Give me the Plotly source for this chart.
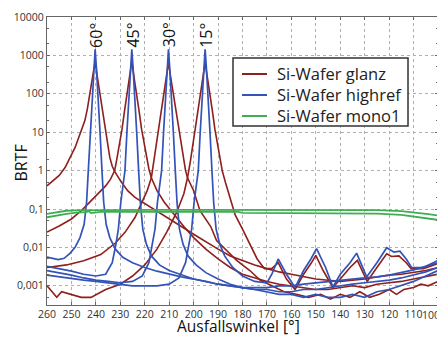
import plotly.graph_objects as go

# ---------------- data ----------------
# Si-Wafer glanz (red), four incidence angles
r60_x = [260, 257.5, 255, 252.6, 250.5, 248.5, 246.5, 244.5, 243.5, 242.4, 241.3, 240.3,
         239.3, 238.3, 237.3, 236.3, 235.3, 234.3, 233.3, 232.3, 230, 227, 224, 220, 215, 210,
         205, 200, 195, 190, 185, 180, 175, 170, 165, 160, 155, 150, 145, 140, 135, 130, 125,
         120, 115, 110, 105, 100]
r60_y = [0.4, 0.55, 0.75, 1.2, 2.2, 4, 9, 20, 40, 100, 300, 700,
         250, 100, 35, 12, 5, 2.2, 1.3, 0.95, 0.55, 0.3, 0.2, 0.14, 0.09, 0.055,
         0.035, 0.022, 0.014, 0.009, 0.006, 0.0045, 0.0035, 0.0028, 0.0023, 0.002, 0.0017, 0.0015,
         0.0014, 0.0013, 0.0014, 0.0015, 0.0017, 0.0019, 0.002, 0.0022, 0.0025, 0.003]

r45_x = [260, 255, 250, 246, 243, 240, 238, 236, 234, 232.3, 231.3, 230.3, 229.3, 228.3, 227.3,
         226.3, 225.3, 224.3, 223.3, 222.3, 221.3, 220.3, 219.3, 218.3, 217.3, 215, 212, 208, 204,
         200, 195, 190, 185, 180, 175, 170, 165, 160, 155, 150, 145, 140, 135, 130, 125, 120, 115,
         110, 105, 100]
r45_y = [0.025, 0.036, 0.055, 0.09, 0.14, 0.22, 0.3, 0.4, 0.6, 1.0, 2.2, 5, 12, 35, 100,
         250, 700, 250, 100, 35, 12, 5, 2.2, 1.1, 0.65, 0.3, 0.15, 0.07, 0.035,
         0.018, 0.009, 0.005, 0.003, 0.002, 0.0016, 0.0013, 0.0011, 0.001, 0.0009, 0.0008, 0.0008,
         0.0009, 0.001, 0.0009, 0.0011, 0.0012, 0.0013, 0.0015, 0.0017, 0.002]

r30_x = [260, 252, 245, 238, 232, 228, 224, 221, 219, 217.3, 216.3, 215.3, 214.3, 213.3, 212.3,
         211.3, 210.3, 209.3, 208.3, 207.3, 206.3, 205.3, 204.3, 203.3, 202.5, 200, 197.4, 193,
         190.6, 186, 182.4, 177, 172.8, 168, 163, 158, 153, 148, 144, 140, 136, 132, 128, 124, 120,
         117, 114, 110, 107, 104, 100]
r30_y = [0.003, 0.0035, 0.0045, 0.0065, 0.013, 0.025, 0.06, 0.15, 0.3, 0.65, 1.8, 5, 12, 35, 100,
         250, 650, 250, 100, 35, 12, 5, 2, 1, 0.65, 0.3, 0.09, 0.035,
         0.015, 0.008, 0.0046, 0.0025, 0.0014, 0.001, 0.0007, 0.0006, 0.0005, 0.0006, 0.00045, 0.0006,
         0.0005, 0.0007, 0.0005, 0.0006, 0.0008, 0.0006, 0.0008, 0.0009, 0.0011, 0.001, 0.0013]

r15_x = [260, 258, 256, 254, 250, 246, 242, 236, 230, 225, 220, 215, 211, 207, 204, 202.5, 201.3,
         200.3, 199.3, 198.3, 197.3, 196.3, 195.3, 194.3, 193.3, 192.3, 191.3, 190.3, 189.3, 188.3,
         187, 185, 183, 180, 177, 174, 171, 168, 165.4, 162, 158.5, 155, 152, 150, 147, 143, 140,
         136, 133, 131, 129, 125, 121, 119, 116, 113, 111, 106, 100]
r15_y = [0.001, 0.0007, 0.0005, 0.0007, 0.0006, 0.0005, 0.0005, 0.0008, 0.0011, 0.0018, 0.0035,
         0.009, 0.025, 0.08, 0.25, 0.65, 1.8,
         5, 12, 35, 100, 250, 650, 250, 100, 35, 12, 5, 2, 1,
         0.5, 0.2, 0.07, 0.03, 0.012, 0.005, 0.0028, 0.0028, 0.004, 0.0015, 0.0008, 0.002, 0.0038,
         0.0062, 0.0025, 0.0009, 0.0015,
         0.003, 0.0046, 0.0025, 0.0013, 0.003, 0.0068, 0.0058, 0.006, 0.004, 0.0028, 0.0028, 0.0038]

# Si-Wafer highref (blue), four incidence angles
b60_x = [260, 258, 255.4, 253, 250.6, 248.5, 246.5, 244.8, 243.8, 243.1, 242.3, 241.5, 240.8,
         240.3, 239.8, 239.1, 238.3, 237.5, 236.8, 235.8, 234.3, 232, 229, 225, 220, 215, 210, 205,
         200, 195, 190, 185, 180, 175, 170, 165, 160, 155, 150, 145, 140, 135, 130, 125, 120, 115,
         110, 105, 100]
b60_y = [0.0056, 0.0052, 0.0048, 0.0052, 0.007, 0.01, 0.018, 0.04, 0.15, 1, 10, 100, 500,
         1450, 500, 100, 10, 1, 0.15, 0.04, 0.018, 0.009, 0.0055, 0.004, 0.003, 0.0024, 0.002,
         0.0017, 0.0015, 0.0013, 0.0011, 0.001, 0.0009, 0.0009, 0.0009, 0.001, 0.001, 0.0011,
         0.0012, 0.0013, 0.0014, 0.0015, 0.0016, 0.0017, 0.0019, 0.0022, 0.0026, 0.0032, 0.004]

b45_x = [260, 255, 250, 245, 240, 236, 233.3, 231.8, 230.8, 229.8, 228.1, 227.3, 226.5, 225.8,
         225.3, 224.8, 224.1, 223.3, 222.5, 221.8, 220.8, 219.3, 217.3, 214, 210, 205, 200, 195,
         190, 185, 180, 175, 170, 165, 160, 155, 150, 145, 140, 135, 130, 125, 120, 115, 110, 105,
         100]
b45_y = [0.0032, 0.0028, 0.0024, 0.002, 0.0018, 0.002, 0.004, 0.012, 0.03, 0.15, 1, 10, 100, 500,
         1450, 500, 100, 10, 1, 0.15, 0.03, 0.012, 0.006, 0.0035, 0.0025, 0.0019, 0.0015, 0.0013,
         0.0011, 0.001, 0.0009, 0.0008, 0.0008, 0.0007, 0.0007, 0.0008, 0.0008, 0.0009, 0.001,
         0.0011, 0.0012, 0.0013, 0.0014, 0.0016, 0.0019, 0.0023, 0.003]

b30_x = [260, 255, 250, 245, 240, 235, 230, 225, 221, 218.3, 216.8, 215.8, 214.8, 213.1, 212.3,
         211.5, 210.8, 210.3, 209.8, 209.1, 208.3, 207.5, 206.8, 205.8, 204.3, 202.3, 199, 195, 190,
         185, 180, 175, 170, 165, 160, 155, 150, 145, 140, 135, 130, 125, 120, 115, 110, 105, 100]
b30_y = [0.0025, 0.0022, 0.0019, 0.0016, 0.0014, 0.0013, 0.0012, 0.0013, 0.0018, 0.004, 0.012,
         0.03, 0.15, 1, 10, 100, 500, 1450, 500, 100, 10, 1, 0.15, 0.03, 0.012, 0.006, 0.0035,
         0.0022, 0.0015, 0.0011, 0.0009, 0.0008, 0.0007, 0.0006, 0.0006, 0.0005, 0.0006, 0.0005,
         0.0005, 0.0006, 0.0005, 0.0007, 0.0008, 0.001, 0.0013, 0.0018, 0.0025]

b15_x = [260, 255, 250, 245, 240, 235, 230, 225, 220, 215, 210, 206, 203.3, 201.8, 200.8, 199.8,
         198.1, 197.3, 196.5, 195.8, 195.3, 194.8, 194.1, 193.3, 192.5, 191.8, 190.8, 189.3, 187.3,
         184, 180, 175, 170, 168, 165.4, 162, 158.5, 155, 152, 149.7, 146, 143, 140, 136, 133.3,
         131, 129.2, 125, 121, 118, 115.6, 113, 110.8, 106, 100]
b15_y = [0.0019, 0.0017, 0.0015, 0.0014, 0.0013, 0.0012, 0.0011, 0.001, 0.001, 0.001, 0.0011,
         0.0016, 0.004, 0.012, 0.03, 0.15, 1, 10, 100, 500, 1450, 500, 100, 10, 1, 0.15, 0.03,
         0.012, 0.006, 0.003, 0.0018, 0.0013, 0.0012, 0.002, 0.005, 0.002, 0.0009, 0.0025, 0.005,
         0.0093, 0.003, 0.00093, 0.002, 0.004, 0.0071, 0.003, 0.0017, 0.004, 0.0098, 0.0075,
         0.008, 0.005, 0.003, 0.003, 0.0046]

# Si-Wafer mono1 (green), two measurements
g1_x = [260, 256, 252, 248, 243, 235, 220, 200, 180, 160, 140, 125, 115, 108, 104, 100]
g1_y = [0.075, 0.082, 0.09, 0.092, 0.093, 0.094, 0.095, 0.095, 0.095, 0.094, 0.094, 0.093,
        0.088, 0.08, 0.074, 0.068]
g2_x = [260, 256, 252, 248, 244, 243, 242, 238, 225, 200, 182, 180, 160, 140, 125, 115, 108,
        104, 100]
g2_y = [0.061, 0.068, 0.075, 0.08, 0.083, 0.088, 0.078, 0.084, 0.085, 0.085, 0.085, 0.079,
        0.079, 0.078, 0.076, 0.07, 0.062, 0.056, 0.052]

peak_pos = [240, 225, 210, 195]
peak_labels = ["60°", "45°", "30°", "15°"]

x_ticks = list(range(260, 99, -10))
x_ticktext = [str(v) for v in x_ticks]
y_tickvals = [10000, 1000, 100, 10, 1, 0.1, 0.01, 0.001]
y_ticktext = ["10000", "1000", "100", "10", "1", "0,1", "0,01", "0,001"]

series_names = ["Si-Wafer glanz", "Si-Wafer highref", "Si-Wafer mono1"]

# ---------------- figure ----------------
RED = "#8e1f1c"
BLUE = "#3453b8"
GREEN = "#3fae52"
colors = [RED, BLUE, GREEN]

fig = go.Figure()

red_sets = [(r60_x, r60_y), (r45_x, r45_y), (r30_x, r30_y), (r15_x, r15_y)]
blue_sets = [(b60_x, b60_y), (b45_x, b45_y), (b30_x, b30_y), (b15_x, b15_y)]
green_sets = [(g1_x, g1_y), (g2_x, g2_y)]

for sets, col, name, w in [(red_sets, RED, series_names[0], 1.6),
                           (blue_sets, BLUE, series_names[1], 1.7),
                           (green_sets, GREEN, series_names[2], 1.8)]:
    for i, (xs, ys) in enumerate(sets):
        fig.add_trace(go.Scatter(x=xs, y=ys, mode="lines", name=name,
                                 showlegend=False,
                                 line=dict(color=col, width=w)))

minor_vals = [m * 10 ** e for e in range(-4, 4) for m in (2, 5)]

# the page body adds an 8px offset, so the figure is drawn 8px smaller
fig.update_layout(
    width=437, height=330,
    margin=dict(l=39, r=7, t=9, b=33),
    paper_bgcolor="white", plot_bgcolor="white",
    font=dict(family="Open Sans", color="#333"),
    showlegend=False,
)

# last x label ("100") is placed as an annotation so it stays inside the page
fig.update_xaxes(
    range=[260, 100], tickmode="array", tickvals=x_ticks,
    ticktext=x_ticktext[:-1] + [""], automargin=False,
    ticklabelstandoff=-1,
    showgrid=True, gridcolor="#b0b0b0", griddash="dot", gridwidth=1,
    showline=True, linecolor="#666", linewidth=1.3, mirror="ticks",
    ticks="inside", ticklen=3, tickcolor="#666",
    tickfont=dict(size=10.5, color="#333"), zeroline=False,
)
fig.update_yaxes(
    type="log", range=[-3.5, 4], tickmode="array", tickvals=y_tickvals,
    ticktext=y_ticktext, automargin=False,
    showgrid=True, gridcolor="#b0b0b0", griddash="dot", gridwidth=1,
    showline=True, linecolor="#666", linewidth=1.3, mirror="ticks",
    ticks="inside", ticklen=3, tickcolor="#666",
    tickfont=dict(size=10.5, color="#333"), zeroline=False,
    minor=dict(tickmode="array", tickvals=minor_vals, ticks="inside",
               ticklen=2, tickcolor="#666", showgrid=False),
)

fig.add_annotation(x=x_ticks[-1], y=-0.036, xref="x", yref="paper",
                   text=x_ticktext[-1], showarrow=False, xanchor="right",
                   yanchor="middle", xshift=4,
                   font=dict(size=10.5, color="#333"))

for p, lab in zip(peak_pos, peak_labels):
    fig.add_annotation(x=p, y=0.9375, xref="x", yref="paper", text=lab,
                       textangle=-90, showarrow=False,
                       font=dict(size=16, color="#111"),
                       xanchor="center", yanchor="middle")

fig.add_annotation(x=-0.0997, y=0.491, xref="paper", yref="paper", text="BRTF",
                   textangle=-90, showarrow=False,
                   font=dict(size=16, color="#111"),
                   xanchor="left", yanchor="middle")
fig.add_annotation(x=0.49, y=-0.1146, xref="paper", yref="paper",
                   text="Ausfallswinkel [°]", showarrow=False, borderpad=0,
                   font=dict(size=15.5, color="#111"),
                   xanchor="center", yanchor="bottom")

# legend box drawn in paper coordinates
fig.add_shape(type="rect", xref="paper", yref="paper",
              x0=0.4757, x1=0.9233, y0=0.6215, y1=0.8576,
              line=dict(color="#333", width=1.5), fillcolor="white", layer="above")
row_y = [0.8021, 0.7292, 0.6563]
for ry, col, name in zip(row_y, colors, series_names):
    fig.add_shape(type="line", xref="paper", yref="paper",
                  x0=0.4987, x1=0.5627, y0=ry, y1=ry,
                  line=dict(color=col, width=2), layer="above")
    fig.add_annotation(x=0.5831, y=ry, xref="paper", yref="paper", text=name,
                       showarrow=False, xanchor="left", yanchor="middle",
                       font=dict(size=16.5, color="#222"))

fig.write_html("out.html")
